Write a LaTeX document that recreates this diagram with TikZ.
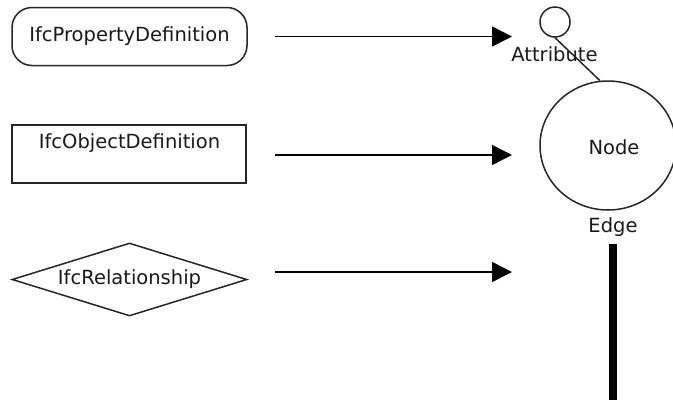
\documentclass[tikz,border=0pt]{standalone}
\usepackage{fontspec}
\setmainfont{DejaVu Sans}
\usetikzlibrary{shapes.geometric,arrows.meta}
\begin{document}
\begin{tikzpicture}[x=1pt,y=-1pt,
  lbl/.style={font=\fontsize{19.5}{22}\selectfont,text=black!90},
  outline/.style={draw=black!85,line width=1.5pt},
  flow/.style={draw=black,line width=1.5pt,-{Triangle[length=20pt,width=20pt]}},
]
\useasboundingbox (0,0) rectangle (673,400);

% legend shapes on the left
\node[outline,lbl,rounded corners=20pt,minimum width=235pt,minimum height=58pt,inner sep=0pt]
  (prop) at (129.5,36.5) {IfcPropertyDefinition};
\node[outline,minimum width=234pt,minimum height=58pt,inner sep=0pt]
  (obj) at (129,154) {};
\node[lbl] (objtext) at (129.5,143) {IfcObjectDefinition};
\node[outline,lbl,diamond,aspect=3.2,minimum width=235pt,minimum height=73pt,inner sep=0pt]
  (rel) at (129.5,279.5) {IfcRelationship};

% arrow end points
\coordinate (a1s) at (275,36.5);  \coordinate (a1e) at (512,36.5);
\coordinate (a2s) at (275,155);   \coordinate (a2e) at (512,155);
\coordinate (a3s) at (275,272);   \coordinate (a3e) at (512,272);
\draw[flow] (a1s) -- (a1e);
\draw[flow] (a2s) -- (a2e);
\draw[flow] (a3s) -- (a3e);

% graph elements on the right
\node[outline,circle,minimum size=30pt,inner sep=0pt] (attr) at (555,22) {};
\node[lbl] (attrtext) at (554.5,54) {Attribute};
\node[outline,ellipse,minimum width=136pt,minimum height=129pt,inner sep=0pt,
  label={[lbl,xshift=6pt,yshift=-2pt]center:Node}] (node) at (608,145.5) {};
\draw[outline] (attr.south) -- (node.97);
\node[lbl] (edgetext) at (613,227) {Edge};
\coordinate (edgebot) at (612.5,400);
\draw[line width=8pt,black] (edgetext.south -| edgebot) ++(0,4) coordinate (edgetop) -- (edgebot);
\end{tikzpicture}
\end{document}
